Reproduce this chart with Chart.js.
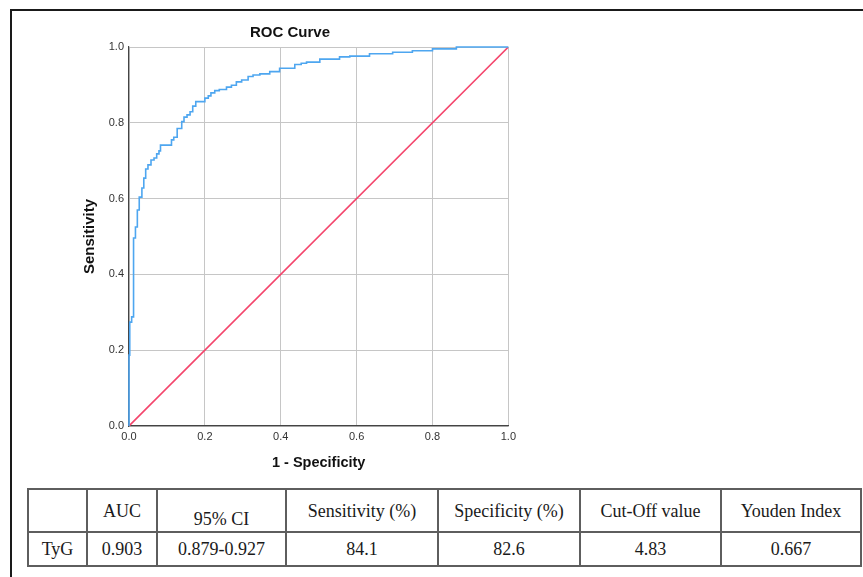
<!DOCTYPE html>
<html>
<head>
<meta charset="utf-8">
<script src="https://cdn.jsdelivr.net/npm/chart.js@4/dist/chart.umd.min.js"></script>
<style>
  html, body { margin: 0; padding: 0; background: #fff; }
  body { width: 863px; height: 577px; position: relative; overflow: hidden; }
  #frame {
    position: absolute; left: 10px; top: 9px; width: 900px; height: 620px;
    border: 2px solid #1a1a1a; box-sizing: border-box;
  }
  #chartBox { position: absolute; left: 71px; top: 20px; width: 449px; height: 452px; }
  #stats {
    position: absolute; left: 27px; top: 488px; width: 833px;
    border-collapse: collapse; table-layout: fixed;
    font-family: "Liberation Serif", "Times New Roman", serif; font-size: 18px; color: #1a1a1a;
  }
  #stats td {
    border: 2px solid #5e5e5e; text-align: center; padding: 0;
    line-height: 20px; overflow: hidden; white-space: nowrap;
  }
  #stats tr.head td { height: 41px; }
  #stats tr.body td { height: 32px; }
  #stats td span.low { position: relative; top: 8px; }
</style>
</head>
<body>
<div id="frame"></div>
<div id="chartBox"><canvas id="roc"></canvas></div>

<table id="stats">
  <colgroup>
    <col style="width:59px"><col style="width:70px"><col style="width:129px"><col style="width:152px">
    <col style="width:142px"><col style="width:141px"><col style="width:140px">
  </colgroup>
  <tr class="head" id="headRow"></tr>
  <tr class="body" id="bodyRow"></tr>
</table>

<script>
// ROC curve points (1 - specificity, sensitivity)
const fpr = [0, 0.002, 0.007, 0.012, 0.017, 0.022, 0.027, 0.034, 0.039, 0.044,
  0.050, 0.058, 0.066, 0.073, 0.079, 0.083, 0.112, 0.118, 0.127, 0.139,
  0.145, 0.153, 0.161, 0.168, 0.176, 0.200, 0.209, 0.216, 0.226, 0.238,
  0.257, 0.270, 0.283, 0.297, 0.314, 0.327, 0.345, 0.371, 0.397, 0.437,
  0.454, 0.468, 0.503, 0.555, 0.582, 0.634, 0.695, 0.747, 0.800, 0.863,
  0.905, 1.0];
const tpr = [0, 0.187, 0.274, 0.288, 0.496, 0.525, 0.570, 0.604, 0.628, 0.654,
  0.678, 0.689, 0.702, 0.707, 0.718, 0.726, 0.741, 0.755, 0.762, 0.785,
  0.803, 0.815, 0.821, 0.829, 0.844, 0.856, 0.865, 0.871, 0.879, 0.885,
  0.888, 0.894, 0.899, 0.908, 0.913, 0.922, 0.926, 0.929, 0.935, 0.944,
  0.954, 0.957, 0.960, 0.968, 0.974, 0.976, 0.982, 0.986, 0.990, 0.995,
  1.0, 1.0];

// reference diagonal
const refX = [0, 1];
const refY = [0, 1];

// table under the chart
const tableHeaders = ['', 'AUC', '95% CI', 'Sensitivity (%)', 'Specificity (%)', 'Cut-Off value', 'Youden Index'];
const tableValues = ['TyG', '0.903', '0.879-0.927', '84.1', '82.6', '4.83', '0.667'];

const headRow = document.getElementById('headRow');
tableHeaders.forEach(h => {
  const td = document.createElement('td');
  const span = document.createElement('span');
  span.textContent = h;
  // this header sits lower in its cell in the original
  if (h === '95% CI') span.className = 'low';
  td.appendChild(span);
  headRow.appendChild(td);
});
const bodyRow = document.getElementById('bodyRow');
tableValues.forEach(v => {
  const td = document.createElement('td');
  td.textContent = v;
  bodyRow.appendChild(td);
});

const sansFont = '"Liberation Sans", Arial, sans-serif';

new Chart(document.getElementById('roc'), {
  type: 'line',
  data: {
    datasets: [
      {
        label: 'TyG',
        data: fpr.map((x, i) => ({ x: x, y: tpr[i] })),
        borderColor: '#4ea6f0',
        borderWidth: 1.6,
        stepped: 'after',
        pointRadius: 0,
        clip: false,
        fill: false
      },
      {
        label: 'Reference',
        data: refX.map((x, i) => ({ x: x, y: refY[i] })),
        borderColor: '#f4456c',
        borderWidth: 1.6,
        pointRadius: 0,
        fill: false
      }
    ]
  },
  options: {
    responsive: true,
    maintainAspectRatio: false,
    animation: false,
    layout: { padding: { left: 0, right: 11, top: 0, bottom: 0 } },
    plugins: {
      legend: { display: false },
      tooltip: { enabled: false },
      title: {
        display: true,
        text: 'ROC Curve',
        color: '#111',
        font: { family: sansFont, size: 15, weight: 'bold' },
        padding: { top: 4, bottom: 5 }
      }
    },
    scales: {
      x: {
        type: 'linear',
        min: 0,
        max: 1,
        afterFit: scale => { scale.height = 46; },
        ticks: {
          stepSize: 0.2,
          padding: 4,
          maxRotation: 0,
          color: '#333',
          font: { family: sansFont, size: 11 },
          callback: v => v.toFixed(1)
        },
        grid: { color: '#c6c6c6', drawTicks: false },
        border: { color: '#444', width: 1.2 },
        title: {
          display: true,
          text: '1 - Specificity',
          color: '#111',
          font: { family: sansFont, size: 14.5, weight: 'bold' },
          padding: { top: 0, bottom: 0 }
        }
      },
      y: {
        type: 'linear',
        min: 0,
        max: 1,
        afterFit: scale => { scale.width = 58; },
        ticks: {
          stepSize: 0.2,
          padding: 5,
          color: '#333',
          font: { family: sansFont, size: 11 },
          callback: v => v.toFixed(1)
        },
        grid: { color: '#c6c6c6', drawTicks: false },
        border: { color: '#444', width: 1.2 },
        title: {
          display: true,
          text: 'Sensitivity',
          color: '#111',
          font: { family: sansFont, size: 15, weight: 'bold' },
          padding: { top: 10, bottom: 0 }
        }
      }
    }
  }
});
</script>
</body>
</html>
